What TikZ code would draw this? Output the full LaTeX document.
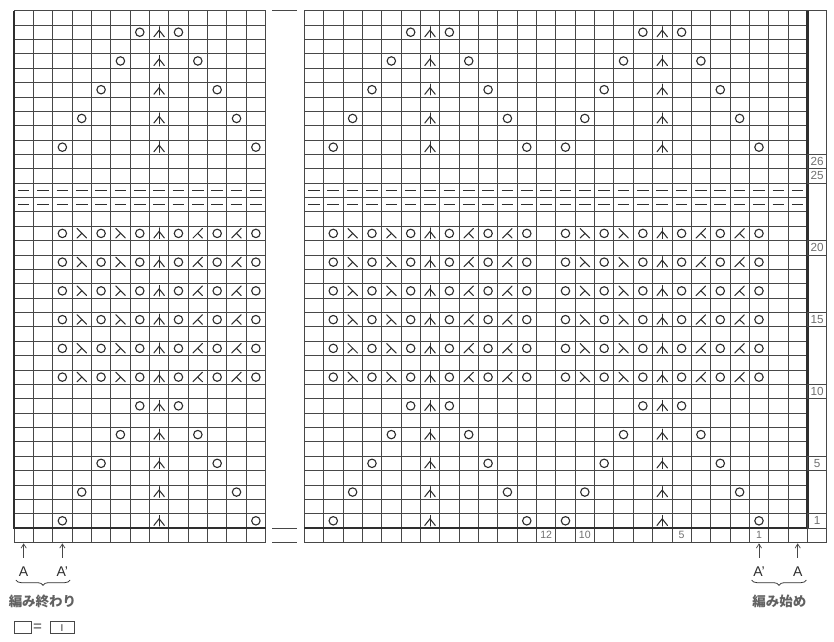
\documentclass[tikz,border=0pt]{standalone}
\usepackage{fontspec}
\setmainfont{Liberation Sans}
\newfontfamily\jpfont{Noto Sans CJK JP}
\usetikzlibrary{arrows.meta,decorations.pathreplacing,positioning}
\definecolor{Ink}{HTML}{2E2E2E}
\definecolor{GridGrey}{HTML}{474747}
\definecolor{LabelGrey}{HTML}{707070}
\tikzset{
  gridline/.style={draw=GridGrey,line width=0.65pt},
  frameline/.style={draw=Ink,line width=2.1pt},
  stitch/.style={draw=Ink,line width=0.9pt,line cap=round},
  yo/.style={draw=Ink,line width=0.95pt},
  purl/.style={draw=Ink,line width=1.1pt},
  rowno/.style={draw=GridGrey,line width=0.65pt,minimum width=0.5805cm,minimum height=0.4311cm,inner sep=0pt,text=LabelGrey,font=\fontsize{10}{11}\selectfont},
  colno/.style={inner sep=0pt,text=LabelGrey,font=\fontsize{9}{10}\selectfont},
  alabel/.style={inner sep=0pt,text=Ink,font=\fontsize{12}{13}\selectfont},
  jplabel/.style={inner sep=0pt,text=black!62,font=\jpfont\bfseries\fontsize{11.5}{13}\selectfont},
  keybox/.style={draw=GridGrey,line width=0.7pt,minimum height=10pt,inner sep=0pt},
  dec3/.pic={\draw[stitch] (0,-0.36) -- (0,0.38);
    \draw[stitch] (-0.27,-0.32) -- (0,0.14) -- (0.27,-0.32);},
  decL/.pic={\draw[stitch] (-0.24,0.34) -- (0.25,-0.32);
    \draw[stitch] (0.01,0.01) -- (-0.24,-0.32);},
  decR/.pic={\draw[stitch] (0.24,0.34) -- (-0.25,-0.32);
    \draw[stitch] (-0.01,0.01) -- (0.24,-0.32);}
}
\begin{document}
\begin{tikzpicture}[x=0.5805cm,y=0.4311cm,>={Straight Barb[length=3.5pt,width=4.5pt]}]
  \useasboundingbox (-0.7235,-7.864) rectangle (42.377,36.743);
  % grids
  \foreach \i in {0,...,13} \draw[gridline] (\i,-1) -- (\i,36);
  \foreach \j in {-1,...,36} \draw[gridline] (0,\j) -- (13,\j);
  \foreach \i in {15,...,41} \draw[gridline] (\i,-1) -- (\i,36);
  \foreach \j in {-1,...,36} \draw[gridline] (15,\j) -- (41,\j);
  \draw[gridline] (41,36) -- (42,36) -- (42,-1) -- (41,-1);
  \draw[gridline] (41,0) -- (42,0);
  \foreach \j in {36,0,-1} \draw[gridline] (13.35,\j) -- (14.65,\j);
  \draw[frameline] (0,36) -- (0,0) -- (13,0);
  \draw[frameline] (15,0) -- (41,0) -- (41,36);
  % stitches
  \foreach \c in {7.5,21.5,33.5}{
    \foreach \k in {0,...,4}{
      \foreach \base in {0,26}{
        \pic at (\c,{\base+2*\k+0.5}) {dec3};
        \draw[yo] ({\c-5+\k},{\base+2*\k+0.5}) circle[radius=3.6pt];
        \draw[yo] ({\c+5-\k},{\base+2*\k+0.5}) circle[radius=3.6pt];
      }
    }
    \foreach \r in {10.5,12.5,...,20.5}{
      \pic at (\c,\r) {dec3};
      \foreach \d in {1,3,5}{
        \draw[yo] ({\c-\d},\r) circle[radius=3.6pt];
        \draw[yo] ({\c+\d},\r) circle[radius=3.6pt];
      }
      \foreach \d in {2,4}{
        \pic at ({\c-\d},\r) {decL};
        \pic at ({\c+\d},\r) {decR};
      }
    }
  }
  \foreach \y in {22.5,23.5}{
    \foreach \i in {0,...,12} \draw[purl] ({\i+0.2},\y) -- ({\i+0.8},\y);
    \foreach \i in {15,...,40} \draw[purl] ({\i+0.2},\y) -- ({\i+0.8},\y);
  }
  % numbers
  \foreach \n in {1,5,10,15,20,25,26} \node[rowno] (row-\n) at (41.5,{\n-0.5}) {\n};
  \foreach \s/\x in {12/27.5,10/29.5,5/34.5,1/38.5} \node[colno] (st-\s) at (\x,-0.5) {\s};
  % start and end marks
  \node[alabel] (endA) at (0.5,-3.04) {A};
  \node[alabel] (endAp) at (2.5,-3.04) {A'};
  \node[alabel] (startAp) at (38.5,-3.04) {A'};
  \node[alabel] (startA) at (40.5,-3.04) {A};
  \foreach \m/\x in {endA/0.5,endAp/2.5,startAp/38.5,startA/40.5}{
    \coordinate (\m-tip) at (\x,-1.07);
    \draw[GridGrey,line width=0.6pt,->,shorten <=7.5pt] (\m.north -| \m-tip) -- (\m-tip);
  }
  \draw[Ink,line width=0.65pt,decorate,decoration={brace,mirror,amplitude=4.5pt}] (0.1,-3.62) -- (2.9,-3.62);
  \draw[Ink,line width=0.65pt,decorate,decoration={brace,mirror,amplitude=4.5pt}] (38.12,-3.62) -- (40.95,-3.62);
  \node[jplabel] (finish) at (1.47,-5.08) {編み終わり};
  \node[jplabel] (begin) at (39.55,-5.08) {編み始め};
  % key
  \node[keybox,minimum width=15pt] (blank-key) at (0.457,-6.93) {};
  \node[inner sep=0pt,text=GridGrey,font=\fontsize{13}{14}\selectfont] (key-eq) at (1.22,-6.93) {=};
  \node[keybox,minimum width=20.4pt,font=\fontsize{8.5}{9}\selectfont,text=Ink] (knit-key) at (2.48,-6.93) {I};
\end{tikzpicture}
\end{document}
